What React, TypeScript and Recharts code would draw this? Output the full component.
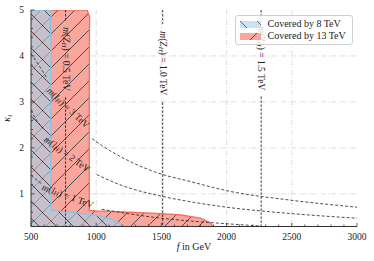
import {
  Area,
  CartesianGrid,
  ComposedChart,
  Label,
  Legend,
  Line,
  ReferenceDot,
  XAxis,
  YAxis,
} from "recharts";

const FONT = "'Liberation Serif', 'DejaVu Serif', serif";

// Achsen
const xTicks = [
  500, 600, 700, 800, 900, 1000, 1100, 1200, 1300, 1400, 1500, 1600, 1700,
  1800, 1900, 2000, 2100, 2200, 2300, 2400, 2500, 2600, 2700, 2800, 2900, 3000,
];
const xLabels = [500, 1000, 1500, 2000, 2500, 3000];
const yTicks = [
  0.4, 0.6, 0.8, 1, 1.2, 1.4, 1.6, 1.8, 2, 2.2, 2.4, 2.6, 2.8, 3, 3.2, 3.4,
  3.6, 3.8, 4, 4.2, 4.4, 4.6, 4.8, 5,
];
const yLabels = [1, 2, 3, 4, 5];
const gridX = [1000, 1500, 2000, 2500];
const gridY = [1, 2, 3, 4];

// abgedeckte Bereiche (f in GeV, kappa)
const region13 = [
  { f: 500, k: 5 }, { f: 930, k: 5 }, { f: 950, k: 4.85 }, { f: 948, k: 4.5 },
  { f: 947, k: 3.0 }, { f: 947, k: 0.64 }, { f: 1000, k: 0.63 },
  { f: 1260, k: 0.6 }, { f: 1500, k: 0.57 }, { f: 1650, k: 0.54 },
  { f: 1800, k: 0.47 }, { f: 1870, k: 0.38 }, { f: 1898, k: 0.29 },
];
const region8 = [
  { f: 500, k: 5 }, { f: 652, k: 5 }, { f: 648, k: 4.6 }, { f: 656, k: 4.1 },
  { f: 650, k: 3.6 }, { f: 655, k: 3.1 }, { f: 649, k: 2.6 }, { f: 656, k: 2.1 },
  { f: 650, k: 1.6 }, { f: 655, k: 1.1 }, { f: 652, k: 0.65 }, { f: 700, k: 0.63 },
  { f: 761, k: 0.61 }, { f: 876, k: 0.58 }, { f: 1029, k: 0.52 },
  { f: 1131, k: 0.43 }, { f: 1180, k: 0.35 }, { f: 1208, k: 0.29 },
];

// m(l_H)-Konturen, unterbrochen wo die Beschriftung sitzt
const mL3Left = [{ f: 500, k: 4.05 }, { f: 560, k: 3.8 }, { f: 625, k: 3.5 }];
const mL3Right = [
  { f: 968, k: 2.2 }, { f: 1100, k: 1.95 }, { f: 1300, k: 1.65 },
  { f: 1500, k: 1.43 }, { f: 1720, k: 1.27 }, { f: 2000, k: 1.07 },
  { f: 2500, k: 0.86 }, { f: 3000, k: 0.71 },
];
const mL2Left = [{ f: 500, k: 2.82 }, { f: 530, k: 2.66 }, { f: 592, k: 2.42 }];
const mL2Right = [
  { f: 1004, k: 1.42 }, { f: 1200, k: 1.18 }, { f: 1500, k: 0.95 },
  { f: 1720, k: 0.83 }, { f: 2000, k: 0.71 }, { f: 2500, k: 0.57 },
  { f: 3000, k: 0.47 },
];
const mL1Left = [{ f: 500, k: 1.4 }, { f: 590, k: 1.2 }];
const mL1Right = [
  { f: 1042, k: 0.665 }, { f: 1200, k: 0.59 }, { f: 1500, k: 0.47 },
  { f: 1720, k: 0.41 }, { f: 2000, k: 0.35 }, { f: 2260, k: 0.3 },
];
const lCurves = [mL3Left, mL3Right, mL2Left, mL2Right, mL1Left, mL1Right];
const lLabels = [
  { mass: "3", f: 784, k: 2.87, angle: 43 },
  { mass: "2", f: 776, k: 1.86, angle: 36 },
  { mass: "1", f: 782, k: 0.95, angle: 20 },
];

// m(Z_H)-Linien: f, Lücke oben/unten, Mitte der Beschriftung
const zLines = [
  { mass: "0.5", f: 765, gapTop: 4.77, gapBottom: 3.1, labelK: 3.93 },
  { mass: "1.0", f: 1510, gapTop: 4.7, gapBottom: 2.99, labelK: 3.84 },
  { mass: "1.5", f: 2265, gapTop: 4.83, gapBottom: 3.12, labelK: 3.95 },
];

const legendItems = [
  { name: "Covered by 8 TeV", fill: "url(#hatch8)", opacity: 0.6 },
  { name: "Covered by 13 TeV", fill: "url(#hatch13)", opacity: 0.7 },
];

function XTick(props: any) {
  const { x, y, payload } = props;
  const major = xLabels.includes(payload.value);
  return (
    <g>
      <line x1={x} x2={x} y1={y} y2={y - (major ? 3.5 : 2)} stroke="#333" strokeWidth={0.8} />
      {major && (
        <text x={x} y={y + 13.5} textAnchor="middle" fontSize={9.5} fontFamily={FONT} fill="#222">
          {payload.value}
        </text>
      )}
    </g>
  );
}

function YTick(props: any) {
  const { x, y, payload } = props;
  const major = yLabels.includes(payload.value);
  return (
    <g>
      <line x1={x} x2={x + (major ? 3.5 : 2)} y1={y} y2={y} stroke="#333" strokeWidth={0.8} />
      {major && (
        <text x={x - 7} y={y + 3.3} textAnchor="end" fontSize={9.5} fontFamily={FONT} fill="#222">
          {payload.value}
        </text>
      )}
    </g>
  );
}

function MassText({ particle, sub, mass }: { particle: string; sub: string; mass: string }) {
  return (
    <>
      <tspan fontStyle="italic">m</tspan>
      <tspan>(</tspan>
      <tspan fontStyle="italic">{particle}</tspan>
      <tspan fontStyle="italic" fontSize={7} dy={2}>{sub}</tspan>
      <tspan dy={-2}>{`) = ${mass} TeV`}</tspan>
    </>
  );
}

function LegendBox() {
  return (
    <div
      style={{
        position: "relative",
        boxSizing: "border-box",
        width: 118,
        height: 30,
        border: "1px solid #cfcfcf",
        borderRadius: 3,
        background: "rgba(255,255,255,0.8)",
        fontFamily: FONT,
        fontSize: 10,
        color: "#222",
      }}
    >
      {legendItems.map((it, i) => (
        <div key={it.name} style={{ position: "absolute", left: 3.5, top: 3 + i * 12.4, height: 10, display: "flex", alignItems: "center", whiteSpace: "nowrap" }}>
          <svg width={21} height={7} style={{ display: "block" }}>
            <rect width={21} height={7} fill="#fff" />
            <rect width={21} height={7} fill={it.fill} fillOpacity={it.opacity} />
          </svg>
          <span style={{ marginLeft: 7, lineHeight: "10px" }}>{it.name}</span>
        </div>
      ))}
    </div>
  );
}

export default function App() {
  return (
    <div style={{ position: "absolute", left: 0, top: 0, width: 374, height: 261, background: "#fff" }}>
      <ComposedChart
        width={374}
        height={261}
        margin={{ top: 10, right: 17, bottom: 0, left: 0 }}
        style={{ fontFamily: FONT }}
      >
        <defs>
          <pattern id="hatch13" patternUnits="userSpaceOnUse" width={17} height={17}>
            <rect width={17} height={17} fill="#fa8072" />
            <path d="M0,17 L17,0 M-2,2 L2,-2 M15,19 L19,15" stroke="#000" strokeWidth={1} />
          </pattern>
          <pattern id="hatch8" patternUnits="userSpaceOnUse" width={17} height={17}>
            <rect width={17} height={17} fill="#a1d1ec" />
            <path d="M0,0 L17,17 M-2,15 L2,19 M15,-2 L19,2" stroke="#000" strokeWidth={1} />
          </pattern>
        </defs>
        <CartesianGrid
          verticalValues={gridX}
          horizontalValues={gridY}
          stroke="#d6d6d6"
          strokeDasharray="5 2 1 2"
          strokeWidth={0.8}
        />
        <XAxis
          dataKey="f"
          type="number"
          domain={[500, 3000]}
          ticks={xTicks}
          interval={0}
          allowDataOverflow
          height={34.5}
          tickSize={0}
          tickMargin={0}
          tickLine={false}
          tick={(p: any) => <XTick {...p} />}
          axisLine={{ stroke: "#333" }}
        >
          <Label
            content={(p: any) => {
              const vb = p.viewBox;
              return (
                <text x={vb.x + vb.width / 2} y={vb.y + 23.5} textAnchor="middle" fontSize={10} fontFamily={FONT} fill="#222">
                  <tspan fontStyle="italic">f</tspan> in GeV
                </text>
              );
            }}
          />
        </XAxis>
        <YAxis
          type="number"
          domain={[0.29, 5]}
          ticks={yTicks}
          interval={0}
          allowDataOverflow
          width={31}
          tickSize={0}
          tickMargin={0}
          tickLine={false}
          tick={(p: any) => <YTick {...p} />}
          axisLine={{ stroke: "#333" }}
        >
          <Label
            content={(p: any) => {
              const vb = p.viewBox;
              const cx = 10;
              const cy = vb.y + vb.height / 2;
              return (
                <text x={cx} y={cy} transform={`rotate(-90 ${cx} ${cy})`} textAnchor="middle" fontSize={10} fontFamily={FONT} fill="#222">
                  <tspan fontStyle="italic">κ</tspan>
                  <tspan fontStyle="italic" fontSize={7} dy={2}>l</tspan>
                </text>
              );
            }}
          />
        </YAxis>
        <XAxis xAxisId="top" orientation="top" type="number" domain={[500, 3000]} height={0} tick={false} tickLine={false} axisLine={{ stroke: "#222" }} />
        <YAxis yAxisId="right" orientation="right" type="number" domain={[0.29, 5]} width={0} tick={false} tickLine={false} axisLine={{ stroke: "#222" }} />

        <Area
          data={region13}
          dataKey="k"
          type="linear"
          baseValue="dataMin"
          fill="url(#hatch13)"
          fillOpacity={0.7}
          stroke="#f4705e"
          strokeWidth={1.3}
          dot={false}
          activeDot={false}
          isAnimationActive={false}
        />
        <Area
          data={region8}
          dataKey="k"
          type="linear"
          baseValue="dataMin"
          fill="url(#hatch8)"
          fillOpacity={0.6}
          stroke="#7fc6ea"
          strokeWidth={1.3}
          dot={false}
          activeDot={false}
          isAnimationActive={false}
        />

        {lCurves.map((seg, i) => (
          <Line
            key={`l${i}`}
            data={seg}
            dataKey="k"
            type="monotone"
            stroke="#222"
            strokeWidth={0.8}
            strokeDasharray="3 2"
            dot={false}
            activeDot={false}
            isAnimationActive={false}
          />
        ))}
        {zLines.flatMap((z) => [
          <Line
            key={`zt${z.mass}`}
            data={[{ f: z.f, k: 5 }, { f: z.f, k: z.gapTop }]}
            dataKey="k"
            type="linear"
            stroke="#222"
            strokeWidth={0.9}
            strokeDasharray="2.5 1.5"
            dot={false}
            activeDot={false}
            isAnimationActive={false}
          />,
          <Line
            key={`zb${z.mass}`}
            data={[{ f: z.f, k: z.gapBottom }, { f: z.f, k: 0.29 }]}
            dataKey="k"
            type="linear"
            stroke="#222"
            strokeWidth={0.9}
            strokeDasharray="2.5 1.5"
            dot={false}
            activeDot={false}
            isAnimationActive={false}
          />,
        ])}

        {zLines.map((z) => (
          <ReferenceDot
            key={`zl${z.mass}`}
            x={z.f}
            y={z.labelK}
            r={0}
            shape={(p: any) => (
              <text
                x={p.cx}
                y={p.cy}
                transform={`rotate(90 ${p.cx} ${p.cy})`}
                textAnchor="middle"
                dominantBaseline="central"
                fontSize={9.5}
                fontFamily={FONT}
                fill="#222"
              >
                <MassText particle="Z" sub="H" mass={z.mass} />
              </text>
            )}
          />
        ))}
        {lLabels.map((l) => (
          <ReferenceDot
            key={`ll${l.mass}`}
            x={l.f}
            y={l.k}
            r={0}
            shape={(p: any) => (
              <text
                x={p.cx}
                y={p.cy}
                transform={`rotate(${l.angle} ${p.cx} ${p.cy})`}
                textAnchor="middle"
                dominantBaseline="central"
                fontSize={9.5}
                fontFamily={FONT}
                fill="#222"
              >
                <MassText particle="l" sub="H" mass={l.mass} />
              </text>
            )}
          />
        ))}

        <Legend
          layout="horizontal"
          verticalAlign="middle"
          align="center"
          content={() => <LegendBox />}
          wrapperStyle={{ left: 235, top: 15, width: 118, height: 30 }}
        />
      </ComposedChart>
    </div>
  );
}
